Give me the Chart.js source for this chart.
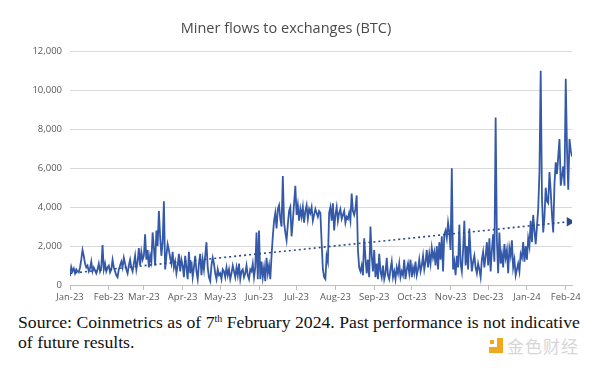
<!DOCTYPE html>
<html>
<head>
<meta charset="utf-8">
<script src="https://cdn.jsdelivr.net/npm/chart.js@4.4.0/dist/chart.umd.min.js"></script>
<style>
  body { margin: 0; background: #fff; width: 600px; height: 368px; overflow: hidden; position: relative; }
  #wrap { position: absolute; left: 0; top: 0; width: 600px; height: 310px; }
  #note { position: absolute; left: 18px; top: 313px; font-family: "Liberation Serif", serif; font-size: 17.7px; line-height: 19.5px; color: #111; }
  #note sup { font-size: 10px; vertical-align: 6px; line-height: 0; }
  #mark { position: absolute; left: 489px; top: 335px; height: 20px; }
  #mark .ico { position: absolute; left: 0; top: 3px; width: 14px; height: 15px; }
  #mark .ico i { position: absolute; background: #f0a81e; }
  #mark .txt { position: absolute; left: 18px; top: -2px; font-family: "Noto Sans CJK SC", sans-serif; font-size: 17px; color: #d6d6d6; white-space: nowrap; letter-spacing: 1px; }
</style>
</head>
<body>
<div id="wrap"><canvas id="chart" width="600" height="310"></canvas></div>
<div id="note">Source: Coinmetrics as of 7<sup>th</sup> February 2024. Past performance is not indicative<br>of future results.</div>
<div id="mark">
  <div class="ico"><i style="left:8px;top:0;width:6px;height:15px"></i><i style="left:0;top:9px;width:8px;height:6px"></i><i style="left:1px;top:2px;width:4px;height:4px"></i></div>
  <div class="txt">金色财经</div>
</div>
<script>
// daily miner flows to exchanges (BTC)
var jan23 = [450, 930, 700, 850, 600, 800, 700, 650, 900, 1300, 1800, 1500, 1100, 900, 1000, 700, 850, 1200, 700, 900, 750, 600, 800, 1100, 700, 900, 2050, 800, 1100, 700, 900];
var feb23 = [1000, 650, 800, 1300, 900, 700, 500, 400, 800, 1000, 1200, 900, 1400, 1100, 800, 600, 1000, 1300, 900, 700, 1100, 1500, 800, 1200, 1900, 1000, 1700, 1300];
var mar23 = [1500, 2600, 1300, 1800, 900, 1500, 1200, 2700, 1900, 1000, 2800, 2000, 3800, 2500, 1500, 2200, 4300, 800, 1500, 2100, 1800, 1400, 1100, 1700, 900, 1200, 600, 1000, 1600, 700, 1300];
var apr23 = [1000, 400, 1500, 900, 300, 1700, 600, 1200, 400, 900, 1500, 700, 300, 1100, 1600, 500, 1300, 800, 1500, 2200, 900, 400, 200, 1000, 1400, 1100, 600, 300, 800, 500];
var may23 = [600, 300, 800, 700, 400, 900, 500, 800, 300, 600, 1000, 700, 400, 900, 500, 1100, 300, 700, 800, 400, 600, 1000, 500, 300, 800, 700, 1100, 400, 900, 2700, 300];
var jun23 = [2800, 300, 1200, 400, 900, 200, 1400, 600, 1000, 300, 1500, 2500, 3300, 3700, 2900, 3900, 4100, 3400, 3000, 5600, 3200, 2700, 2300, 3100, 3800, 4000, 2500, 3300, 4200, 5100];
var jul23 = [3600, 4100, 3300, 3900, 3500, 4000, 3200, 3800, 4100, 3400, 3900, 3700, 4000, 3300, 3600, 3900, 3700, 3500, 3800, 3700, 2200, 800, 400, 300, 1500, 1200, 3700, 4000, 3300, 4200, 2800];
var aug23 = [3600, 4000, 3300, 3700, 3900, 3400, 3600, 3800, 3200, 3500, 3400, 3700, 3300, 4700, 3800, 3600, 3900, 4600, 1800, 900, 700, 1000, 500, 2400, 1400, 600, 1300, 400, 3000, 1500, 700];
var sep23 = [1800, 400, 1100, 300, 1600, 700, 400, 1000, 300, 600, 1400, 500, 300, 800, 1200, 400, 700, 300, 900, 600, 1100, 400, 700, 500, 1300, 300, 800, 1100, 600, 1300];
var oct23 = [400, 900, 600, 1200, 500, 800, 1300, 700, 1000, 1500, 800, 1200, 1800, 900, 1600, 1100, 1900, 1400, 1700, 1000, 2000, 800, 2200, 1300, 2500, 700, 2600, 2800, 2400, 3200, 2700];
var nov23 = [1800, 6000, 800, 1200, 500, 1500, 900, 3100, 1100, 700, 1800, 3300, 1000, 2000, 800, 2900, 1600, 700, 1200, 1500, 900, 600, 1100, 800, 400, 1300, 1700, 900, 1500, 2200];
var dec23 = [1000, 2400, 700, 1800, 2600, 1200, 8600, 2300, 600, 2700, 1100, 1600, 900, 2100, 1400, 1800, 600, 1900, 1500, 2300, 900, 1300, 500, 800, 1100, 700, 1600, 1400, 2200, 1200, 2000];
var jan24 = [1300, 2400, 2000, 3300, 2200, 3600, 2800, 2100, 3000, 3900, 5800, 11000, 4500, 2700, 3500, 5000, 4300, 4200, 5800, 4800, 3600, 2700, 5200, 6300, 5700, 6600, 7500, 5100, 5600, 6100, 5100];
var feb24 = [10600, 7000, 4900, 7500, 6900, 6600];

var months = [jan23, feb23, mar23, apr23, may23, jun23, jul23, aug23, sep23, oct23, nov23, dec23, jan24, feb24];
var monthLabels = ['Jan-23', 'Feb-23', 'Mar-23', 'Apr-23', 'May-23', 'Jun-23', 'Jul-23', 'Aug-23', 'Sep-23', 'Oct-23', 'Nov-23', 'Dec-23', 'Jan-24', 'Feb-24'];

// dotted trend line end points
var trendStart = 600;
var trendEnd = 3250;

var yTicks = [0, 2000, 4000, 6000, 8000, 10000, 12000];

// day index of each month start, counted from 1 Jan 2023
var monthStarts = [];
var flows = [];
var day = 0;
months.forEach(function (m) {
    monthStarts.push(day);
    m.forEach(function (v) {
        flows.push({ x: day, y: v });
        day++;
    });
});
var lastDay = day - 1;

var ctx = document.getElementById('chart').getContext('2d');
new Chart(ctx, {
    type: 'line',
    data: {
        datasets: [{
            data: [{ x: 0, y: trendStart }, { x: lastDay - 2, y: trendEnd }],
            borderColor: '#2b4a8c',
            backgroundColor: '#2b4a8c',
            borderWidth: 1.6,
            borderDash: [2, 3],
            pointRadius: [0, 5.5],
            pointStyle: 'triangle',
            pointRotation: 90,
            pointBackgroundColor: '#2b4a8c',
            pointBorderWidth: 0
        }, {
            data: flows,
            borderColor: '#3459a8',
            borderWidth: 1.8,
            pointRadius: 0,
            tension: 0
        }]
    },
    options: {
        responsive: false,
        animation: false,
        layout: { padding: { top: 20, right: 28, bottom: 5, left: 0 } },
        plugins: {
            legend: { display: false },
            tooltip: { enabled: false },
            title: {
                display: true,
                text: 'Miner flows to exchanges (BTC)',
                color: '#4a4a4a',
                font: { family: 'Open Sans', size: 14.5, weight: 'normal' },
                padding: { top: 0, bottom: 14 }
            }
        },
        scales: {
            x: {
                type: 'linear',
                min: 0,
                max: lastDay,
                afterBuildTicks: function (axis) {
                    axis.ticks = monthStarts.map(function (v) { return { value: v }; });
                },
                afterFit: function (scale) { scale.height = 20; },
                grid: { drawOnChartArea: false, drawTicks: true, tickLength: 5, color: '#bfbfbf' },
                border: { color: '#bfbfbf' },
                ticks: {
                    autoSkip: false,
                    maxRotation: 0,
                    padding: 2,
                    color: '#595959',
                    font: { family: 'Open Sans', size: 9.5 },
                    callback: function (v, i) { return monthLabels[i]; }
                }
            },
            y: {
                min: 0,
                max: 12000,
                afterBuildTicks: function (axis) {
                    axis.ticks = yTicks.map(function (v) { return { value: v }; });
                },
                afterFit: function (scale) { scale.width = 70; },
                grid: { color: '#d9d9d9', drawTicks: false },
                border: { display: false },
                ticks: {
                    padding: 8,
                    color: '#595959',
                    font: { family: 'Open Sans', size: 9.5 },
                    callback: function (v) { return v.toLocaleString('en-US'); }
                }
            }
        }
    }
});
</script>
</body>
</html>
